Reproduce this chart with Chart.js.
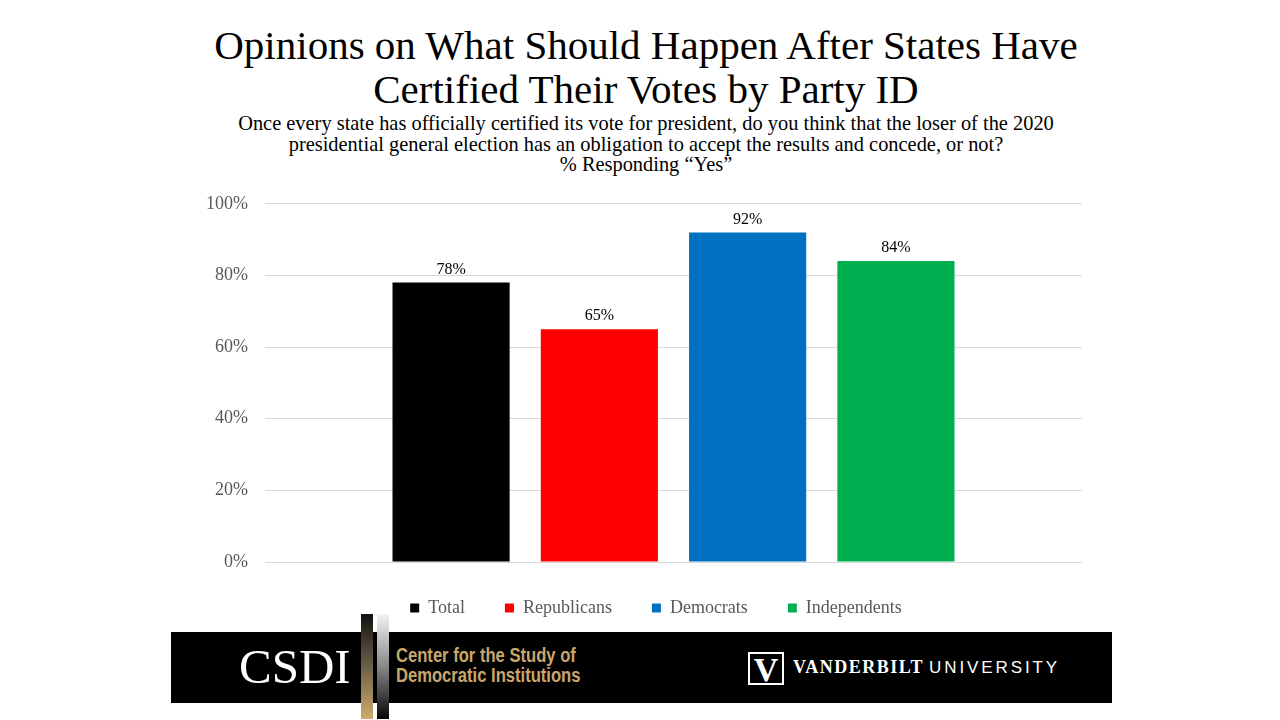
<!DOCTYPE html>
<html>
<head>
<meta charset="utf-8">
<script src="https://cdn.jsdelivr.net/npm/chart.js@4.4.0/dist/chart.umd.min.js"></script>
<style>
  body { margin: 0; width: 1280px; height: 720px; background: #fff; position: relative; overflow: hidden; font-family: "Liberation Serif", serif; }
  #title { position: absolute; left: 6px; top: 23px; width: 1280px; text-align: center; font-size: 41px; line-height: 44px; color: #000; }
  #subtitle { position: absolute; left: 6px; top: 113px; width: 1280px; text-align: center; font-size: 20.4px; line-height: 20.5px; color: #000; }
  #chartBox { position: absolute; left: 160px; top: 176px; width: 940px; height: 454px; }
  #band { position: absolute; left: 171px; top: 632px; width: 941px; height: 71px; background: #000; }
  .abs { position: absolute; white-space: nowrap; }
  #csdi { left: 239px; top: 639px; font-size: 49px; line-height: 56px; color: #fff; }
  #barGold { left: 361px; top: 614px; width: 12px; height: 105px; background: linear-gradient(#111, #5a5040 40%, #cdab6c); }
  #barGrey { left: 377px; top: 614px; width: 12px; height: 105px; background: linear-gradient(#f4f4f4, #888 50%, #050505); }
  #center { left: 396px; top: 646px; font-family: "Liberation Sans", sans-serif; font-weight: bold; font-size: 20px; line-height: 19.5px; color: #c9a76b; transform: scaleX(0.83); transform-origin: left top; }
  #vlogo { left: 748px; top: 652px; width: 32px; height: 29px; border: 2px solid #fff; color: #fff; font-family: "Liberation Serif", serif; font-weight: bold; font-size: 34px; line-height: 31px; text-align: center; }
  #vandy { left: 793px; top: 655px; color: #fff; font-size: 18px; line-height: 24px; }
  #vandy b { font-family: "Liberation Serif", serif; letter-spacing: 1.5px; }
  #vandy span { font-family: "Liberation Sans", sans-serif; font-weight: 300; font-size: 17px; letter-spacing: 2.9px; margin-left: 5px; }
</style>
</head>
<body>
<div id="title">Opinions on What Should Happen After States Have<br>Certified Their Votes by Party ID</div>
<div id="subtitle">Once every state has officially certified its vote for president, do you think that the loser of the 2020<br>presidential general election has an obligation to accept the results and concede, or not?<br>% Responding “Yes”</div>
<div id="chartBox"><canvas id="myChart"></canvas></div>
<div id="band"></div>
<div class="abs" id="csdi">CSDI</div>
<div class="abs" id="barGold"></div>
<div class="abs" id="barGrey"></div>
<div class="abs" id="center">Center for the Study of<br>Democratic Institutions</div>
<div class="abs" id="vlogo">V</div>
<div class="abs" id="vandy"><b>VANDERBILT</b><span>UNIVERSITY</span></div>
<script>
// chart values
var parties = ['Total', 'Republicans', 'Democrats', 'Independents'];
var yesShare = [78, 65, 92, 84];
var partyColors = ['#000000', '#ff0000', '#0070c0', '#00b050'];
var yMax = 100;
var yStep = 20;

Chart.defaults.font.family = "'Liberation Serif', serif";

// write the value above each bar
var valueLabels = {
    id: 'valueLabels',
    afterDatasetsDraw: function(chart) {
        var ctx = chart.ctx;
        ctx.save();
        ctx.font = "16px 'Liberation Serif', serif";
        ctx.fillStyle = '#000';
        ctx.textAlign = 'center';
        ctx.textBaseline = 'bottom';
        chart.data.datasets.forEach(function(ds, i) {
            var bar = chart.getDatasetMeta(i).data[0];
            ctx.fillText(ds.data[0] + '%', bar.x, bar.y - 5);
        });
        ctx.restore();
    }
};

// the legend in the original sits centred on the plot, not the canvas
var legendNudge = {
    id: 'legendNudge',
    afterLayout: function(chart) {
        var lg = chart.legend;
        lg.left += 35; lg.right += 35;
        lg.top -= 3; lg.bottom -= 3;
    }
};

var dataset = [];
for (var i = 0; i < parties.length; i++) {
    dataset.push({
        label: parties[i],
        data: [yesShare[i]],
        backgroundColor: partyColors[i],
        borderWidth: 0,
        categoryPercentage: 0.726,
        barPercentage: 0.79
    });
}

var config = {
    type: 'bar',
    data: { labels: [''], datasets: dataset },
    options: {
        responsive: true,
        maintainAspectRatio: false,
        animation: false,
        layout: { padding: { top: 13, right: 18, bottom: 0, left: 0 } },
        plugins: {
            tooltip: { enabled: false },
            legend: {
                position: 'bottom',
                labels: {
                    boxWidth: 9,
                    boxHeight: 9,
                    padding: 40,
                    color: '#595959',
                    font: { size: 18 }
                }
            }
        },
        scales: {
            x: { display: false },
            y: {
                min: 0,
                max: yMax,
                afterFit: function(scale) { scale.width = 105; },
                border: { display: false },
                grid: { color: '#d9d9d9', drawTicks: false },
                ticks: {
                    stepSize: yStep,
                    padding: 17,
                    color: '#595959',
                    font: { size: 18 },
                    callback: function(v) { return v + '%'; }
                }
            }
        }
    },
    plugins: [valueLabels, legendNudge]
};

var myChart = new Chart(document.getElementById('myChart'), config);
</script>
</body>
</html>
